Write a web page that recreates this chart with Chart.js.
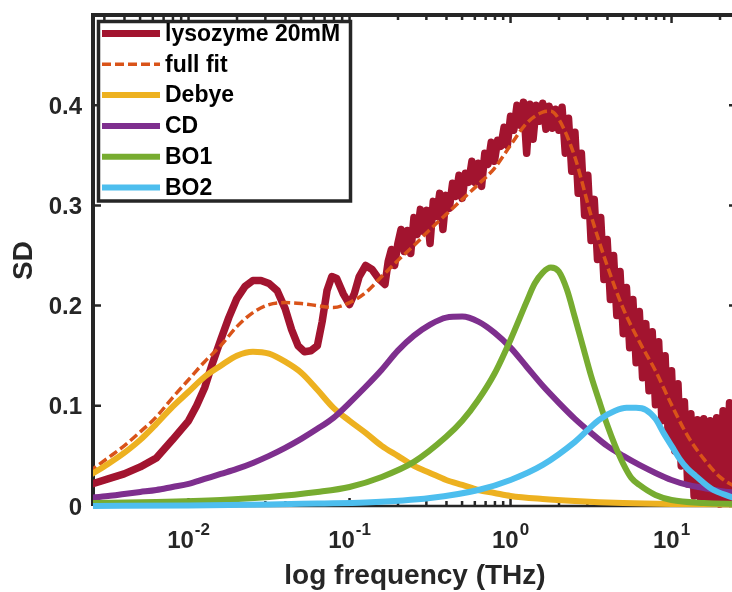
<!DOCTYPE html>
<html>
<head>
<meta charset="utf-8">
<title>lysozyme SD</title>
<script src="https://cdn.jsdelivr.net/npm/chart.js@4.4.1/dist/chart.umd.min.js"></script>
<style>
  html, body { margin: 0; padding: 0; background: #fff; width: 732px; height: 592px; overflow: hidden; }
  #wrap { width: 745px; height: 592px; }
</style>
</head>
<body>
<div id="wrap"><canvas id="sdChart" width="745" height="592"></canvas></div>
<script>
// x values are log10 of frequency in THz
const lysoLogF = [
  -2.62, -2.5, -2.4, -2.3, -2.2, -2.1, -2.0, -1.95, -1.9, -1.85, -1.8, -1.75, -1.7, -1.65, -1.6, -1.55,
  -1.5, -1.45, -1.4, -1.36, -1.32, -1.28, -1.24, -1.2, -1.17, -1.14, -1.11, -1.08, -1.04, -1.0, -0.97,
  -0.94, -0.9, -0.86, -0.82, -0.78,
  -0.76, -0.74, -0.72, -0.7, -0.68, -0.66, -0.64, -0.62, -0.6, -0.58, -0.56, -0.54, -0.52, -0.5, -0.48,
  -0.46, -0.44, -0.42, -0.4, -0.38, -0.36, -0.34, -0.32, -0.3, -0.28, -0.26, -0.24, -0.22, -0.2, -0.18,
  -0.16, -0.14, -0.12, -0.1, -0.08, -0.06, -0.04, -0.02, 0.0, 0.02, 0.04, 0.06, 0.08, 0.1, 0.12, 0.14,
  0.16, 0.18, 0.2, 0.22, 0.24, 0.26, 0.28, 0.3, 0.32, 0.34, 0.36, 0.38, 0.4, 0.42, 0.44, 0.46, 0.48,
  0.5, 0.52, 0.54, 0.56, 0.58, 0.6, 0.62, 0.64, 0.66, 0.68, 0.7, 0.72, 0.74, 0.76, 0.78, 0.8, 0.82,
  0.84, 0.86, 0.88, 0.9, 0.92, 0.94, 0.96, 0.98, 1.0, 1.02, 1.04, 1.06, 1.08, 1.1, 1.12, 1.14, 1.16,
  1.18, 1.2, 1.22, 1.24, 1.26, 1.28, 1.3, 1.32, 1.34, 1.36, 1.38, 1.4, 1.42
];
const lysoSD = [
  0.021, 0.027, 0.032, 0.039, 0.048, 0.066, 0.085, 0.100, 0.118, 0.143, 0.166, 0.188, 0.207, 0.219, 0.225, 0.225,
  0.222, 0.215, 0.197, 0.176, 0.160, 0.154, 0.155, 0.160, 0.184, 0.215, 0.229, 0.227, 0.212, 0.201, 0.212,
  0.229, 0.240, 0.236, 0.227, 0.221,
  0.244, 0.256, 0.240, 0.262, 0.276, 0.254, 0.275, 0.252, 0.288, 0.271, 0.296, 0.274, 0.295, 0.262, 0.304,
  0.289, 0.312, 0.276, 0.310, 0.297, 0.322, 0.309, 0.330, 0.307, 0.332, 0.323, 0.344, 0.323, 0.342, 0.319,
  0.352, 0.341, 0.363, 0.344, 0.365, 0.359, 0.378, 0.360, 0.389, 0.375, 0.400, 0.380, 0.403, 0.352, 0.401, 0.366,
  0.400, 0.384, 0.402, 0.376, 0.399, 0.377, 0.396, 0.375, 0.398, 0.352, 0.387, 0.334, 0.373, 0.312, 0.352, 0.290, 0.330,
  0.265, 0.306, 0.246, 0.288, 0.226, 0.266, 0.206, 0.250, 0.190, 0.234, 0.172, 0.218, 0.158, 0.206, 0.143, 0.194, 0.128,
  0.182, 0.115, 0.174, 0.101, 0.164, 0.085, 0.150, 0.068, 0.135, 0.055, 0.122, 0.040, 0.104, 0.022, 0.092, 0.010, 0.086,
  0.005, 0.087, 0.003, 0.085, 0.004, 0.088, 0.002, 0.095, 0.003, 0.103, 0.005, 0.110, 0.010
];

const fitLogF = [
  -2.62, -2.5, -2.4, -2.3, -2.2, -2.1, -2.0, -1.9, -1.8, -1.7, -1.6, -1.5, -1.4, -1.3, -1.2, -1.1, -1.0,
  -0.9, -0.8, -0.7, -0.6, -0.5, -0.4, -0.3, -0.2, -0.1, 0.0, 0.1, 0.2, 0.25, 0.3, 0.4, 0.5, 0.6, 0.7,
  0.8, 0.9, 1.0, 1.1, 1.2, 1.3, 1.42
];
const fitSD = [
  0.034, 0.048, 0.060, 0.074, 0.089, 0.108, 0.126, 0.144, 0.160, 0.179, 0.193, 0.201, 0.203, 0.202, 0.200, 0.198, 0.203,
  0.213, 0.229, 0.245, 0.260, 0.276, 0.291, 0.306, 0.321, 0.337, 0.360, 0.382, 0.393, 0.394, 0.386, 0.348, 0.290, 0.240, 0.197,
  0.164, 0.135, 0.101, 0.070, 0.047, 0.029, 0.017
];

const debyeLogF = [
  -2.62, -2.5, -2.4, -2.3, -2.2, -2.1, -2.0, -1.9, -1.8, -1.7, -1.6, -1.5, -1.4, -1.3, -1.2, -1.1, -1.0,
  -0.9, -0.8, -0.7, -0.6, -0.5, -0.4, -0.3, -0.2, -0.1, 0.0, 0.2, 0.4, 0.7, 1.0, 1.42
];
const debyeSD = [
  0.030, 0.042, 0.053, 0.066, 0.082, 0.099, 0.114, 0.129, 0.140, 0.150, 0.154, 0.152, 0.144, 0.133, 0.116, 0.098, 0.085,
  0.073, 0.060, 0.050, 0.040, 0.033, 0.026, 0.021, 0.016, 0.013, 0.010, 0.007, 0.005, 0.003, 0.002, 0.0015
];

const cdLogF = [
  -2.62, -2.5, -2.4, -2.3, -2.2, -2.1, -2.0, -1.9, -1.8, -1.7, -1.6, -1.5, -1.4, -1.3, -1.2, -1.1, -1.0,
  -0.9, -0.8, -0.7, -0.6, -0.5, -0.4, -0.3, -0.2, -0.1, 0.0, 0.1, 0.2, 0.3, 0.4, 0.5, 0.6, 0.7, 0.8,
  0.9, 1.0, 1.1, 1.2, 1.3, 1.42
];
const cdSD = [
  0.008, 0.010, 0.012, 0.014, 0.016, 0.019, 0.022, 0.027, 0.032, 0.037, 0.043, 0.050, 0.058, 0.067, 0.077, 0.088, 0.103,
  0.119, 0.136, 0.155, 0.170, 0.181, 0.188, 0.189, 0.184, 0.173, 0.158, 0.139, 0.120, 0.103, 0.087, 0.073, 0.060, 0.050, 0.041,
  0.033, 0.026, 0.021, 0.018, 0.015, 0.013
];

const bo1LogF = [
  -2.62, -2.2, -1.8, -1.5, -1.2, -1.0, -0.8, -0.6, -0.4, -0.3, -0.2, -0.1, 0.0, 0.1, 0.15, 0.2,
  0.25, 0.3, 0.35, 0.4, 0.45, 0.5, 0.55, 0.6, 0.65, 0.7, 0.75, 0.8, 0.9, 1.0, 1.2, 1.42
];
const bo1SD = [
  0.003, 0.004, 0.006, 0.009, 0.014, 0.019, 0.029, 0.044, 0.069, 0.085, 0.106, 0.132, 0.166, 0.204, 0.222, 0.233,
  0.238, 0.234, 0.216, 0.188, 0.159, 0.130, 0.105, 0.081, 0.060, 0.042, 0.028, 0.021, 0.011, 0.006, 0.003, 0.002
];

const bo2LogF = [
  -2.62, -2.0, -1.5, -1.2, -0.9, -0.5, -0.2, 0.0, 0.2, 0.4, 0.55, 0.65, 0.72, 0.78, 0.84, 0.9, 0.95,
  1.0, 1.05, 1.1, 1.15, 1.25, 1.37, 1.42
];
const bo2SD = [
  0.000, 0.0005, 0.0015, 0.0025, 0.0035, 0.008, 0.016, 0.026, 0.041, 0.064, 0.086, 0.095, 0.098, 0.098, 0.096, 0.087, 0.073,
  0.060, 0.047, 0.037, 0.030, 0.017, 0.009, 0.006
];

const seriesLabels = ['lysozyme 20mM', 'full fit', 'Debye', 'CD', 'BO1', 'BO2'];
const yTicks = [0, 0.1, 0.2, 0.3, 0.4];
const yTickLabels = ['0', '0.1', '0.2', '0.3', '0.4'];
const xDecades = [-2, -1, 0, 1];
const xRange = [0.00255, 25.5];
const yRange = [0, 0.49];

const FONT = '"Liberation Sans", Arial, Helvetica, sans-serif';
const INK = '#262626';

function toPoints(logs, vals) {
  return logs.map((l, i) => ({ x: Math.pow(10, l), y: vals[i] }));
}

// MATLAB-like box, inward ticks, labels and the legend
const matlabAxes = {
  id: 'matlabAxes',
  beforeDatasetsDraw(chart) {
    const { ctx, chartArea: a, scales: { x, y } } = chart;
    ctx.save();
    ctx.strokeStyle = INK;
    ctx.lineWidth = 2.5;
    ctx.beginPath();
    yTicks.forEach(v => {
      const py = y.getPixelForValue(v);
      ctx.moveTo(a.left, py); ctx.lineTo(a.left + 8, py);
      ctx.moveTo(a.right, py); ctx.lineTo(a.right - 8, py);
    });
    for (let d = -3; d <= 1; d++) {
      for (let k = 1; k <= 9; k++) {
        const f = k * Math.pow(10, d);
        if (f < x.min || f > x.max) continue;
        const px = x.getPixelForValue(f);
        const len = k === 1 ? 8 : 5;
        ctx.moveTo(px, a.top); ctx.lineTo(px, a.top + len);
        ctx.moveTo(px, a.bottom); ctx.lineTo(px, a.bottom - len);
      }
    }
    ctx.stroke();
    ctx.lineWidth = 4;
    ctx.beginPath();
    ctx.moveTo(a.left, a.bottom);
    ctx.lineTo(a.left, a.top);
    ctx.lineTo(a.right, a.top);
    ctx.lineTo(a.right, a.bottom);
    ctx.stroke();
    ctx.lineWidth = 2.5;
    ctx.beginPath();
    ctx.moveTo(a.left, a.bottom);
    ctx.lineTo(a.right, a.bottom);
    ctx.stroke();
    ctx.restore();
  },
  afterDraw(chart) {
    const { ctx, chartArea: a, scales: { x, y } } = chart;
    ctx.save();
    ctx.fillStyle = INK;

    // y tick labels
    ctx.font = 'bold 24px ' + FONT;
    ctx.textAlign = 'right';
    ctx.textBaseline = 'middle';
    yTicks.forEach((v, i) => {
      ctx.fillText(yTickLabels[i], a.left - 11, y.getPixelForValue(v) + 2);
    });

    // x tick labels 10^n
    ctx.textAlign = 'left';
    ctx.textBaseline = 'alphabetic';
    xDecades.forEach(d => {
      const px = x.getPixelForValue(Math.pow(10, d));
      ctx.font = 'bold 24px ' + FONT;
      const wBase = ctx.measureText('10').width;
      ctx.font = 'bold 17px ' + FONT;
      const sup = String(d);
      const wSup = ctx.measureText(sup).width;
      const x0 = px - (wBase + wSup + 1) / 2;
      ctx.font = 'bold 24px ' + FONT;
      ctx.fillText('10', x0, 548);
      ctx.font = 'bold 17px ' + FONT;
      ctx.fillText(sup, x0 + wBase + 1, 535);
    });

    // axis titles
    ctx.font = 'bold 28px ' + FONT;
    ctx.textAlign = 'center';
    ctx.fillText('log frequency (THz)', (a.left + a.right) / 2, 584);
    ctx.save();
    ctx.translate(24, (a.top + a.bottom) / 2);
    ctx.rotate(-Math.PI / 2);
    ctx.textBaseline = 'middle';
    ctx.fillText('SD', 0, 0);
    ctx.restore();

    // legend box
    const box = { l: 98.5, t: 21.5, r: 350.5, b: 201 };
    ctx.fillStyle = '#fff';
    ctx.fillRect(box.l, box.t, box.r - box.l, box.b - box.t);
    ctx.strokeStyle = INK;
    ctx.lineWidth = 3.5;
    ctx.strokeRect(box.l, box.t, box.r - box.l, box.b - box.t);

    ctx.font = 'bold 23px ' + FONT;
    ctx.textAlign = 'left';
    ctx.textBaseline = 'middle';
    chart.data.datasets.forEach((ds, i) => {
      const ly = 33.5 + i * 30.8;
      ctx.save();
      ctx.strokeStyle = ds.borderColor;
      ctx.lineWidth = ds.borderDash ? 3.5 : (i === 0 ? 7 : 6);
      ctx.setLineDash(ds.borderDash || []);
      ctx.beginPath();
      ctx.moveTo(102, ly);
      ctx.lineTo(160, ly);
      ctx.stroke();
      ctx.restore();
      ctx.fillStyle = '#000';
      ctx.fillText(ds.label, 165, ly + 1);
    });
    ctx.restore();
  }
};

const lineClip = { left: 0, top: 0, right: 0, bottom: 6 };

new Chart('sdChart', {
  type: 'line',
  data: {
    datasets: [
      // measured data: straight segments so the noise keeps its sharp spikes
      { label: seriesLabels[0], data: toPoints(lysoLogF, lysoSD), borderColor: '#A2142F', borderWidth: 7.5,
        cubicInterpolationMode: 'default', tension: 0, order: 6 },
      { label: seriesLabels[1], data: toPoints(fitLogF, fitSD), borderColor: '#D95319', borderWidth: 3.5,
        borderDash: [9, 4], borderCapStyle: 'butt', order: 5 },
      { label: seriesLabels[2], data: toPoints(debyeLogF, debyeSD), borderColor: '#EDB120', borderWidth: 6, order: 4 },
      { label: seriesLabels[3], data: toPoints(cdLogF, cdSD), borderColor: '#7E2F8E', borderWidth: 6, order: 3 },
      { label: seriesLabels[4], data: toPoints(bo1LogF, bo1SD), borderColor: '#77AC30', borderWidth: 6, order: 2 },
      { label: seriesLabels[5], data: toPoints(bo2LogF, bo2SD), borderColor: '#4DBEEE', borderWidth: 6, order: 1 }
    ]
  },
  options: {
    responsive: false,
    animation: false,
    devicePixelRatio: 1,
    layout: { padding: { left: 93, top: 15, right: 8, bottom: 86 } },
    datasets: { line: { clip: lineClip, cubicInterpolationMode: 'monotone', pointRadius: 0 } },
    elements: { line: { borderJoinStyle: 'round', borderCapStyle: 'round', fill: false } },
    scales: {
      x: { type: 'logarithmic', min: xRange[0], max: xRange[1], display: false },
      y: { type: 'linear', min: yRange[0], max: yRange[1], display: false }
    },
    plugins: { legend: { display: false }, tooltip: { enabled: false } }
  },
  plugins: [matlabAxes]
});
</script>
</body>
</html>
